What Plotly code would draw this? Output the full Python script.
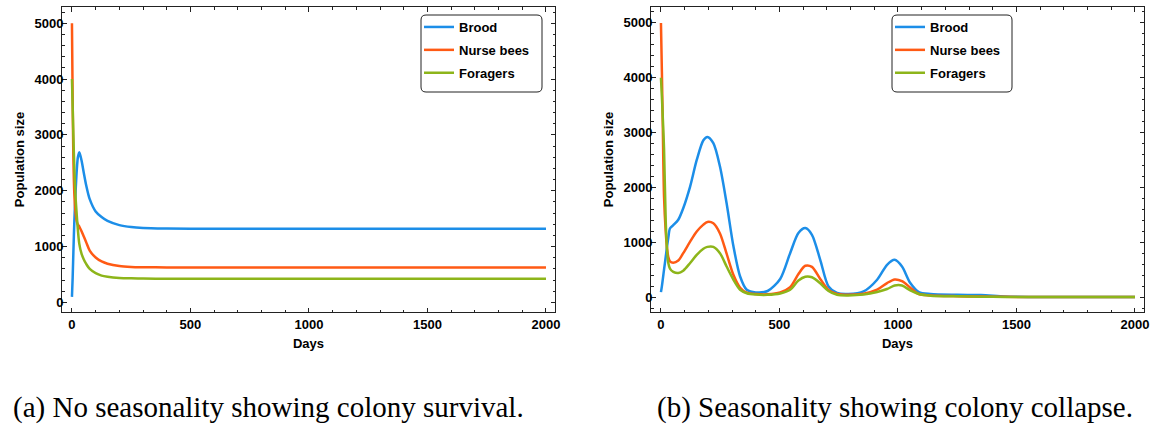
import plotly.graph_objects as go

# (a) no seasonality
t_a = [0, 3, 6, 10, 15, 20, 25, 31, 40, 50, 60, 75, 100, 125, 150, 200, 250, 300, 400, 500, 1000, 1500, 2000]
brood_a = [100, 450, 900, 1450, 1950, 2350, 2600, 2690, 2550, 2320, 2100, 1850, 1630, 1530, 1460, 1385, 1350, 1335, 1325, 1320, 1320, 1320, 1320]
nurse_a = [5000, 3600, 2600, 1950, 1620, 1460, 1395, 1360, 1280, 1180, 1080, 930, 805, 735, 695, 652, 636, 631, 628, 628, 628, 628, 628]
forager_a = [4000, 3500, 3000, 2400, 1900, 1580, 1300, 1050, 880, 770, 690, 600, 525, 482, 462, 440, 432, 428, 425, 425, 425, 425, 425]

# (b) seasonality
t_b = [0, 4, 8, 13, 20, 25, 31, 38, 52, 73, 94, 123, 151, 179, 196, 221, 249, 277, 306, 334, 362, 400, 450,
       503, 545, 580, 609, 637, 672, 707, 743, 790, 855, 912, 954, 986, 1017, 1052, 1088, 1137, 1250, 1350,
       1450, 1550, 2000]
brood_b = [90, 200, 330, 500, 730, 900, 1080, 1250, 1310, 1410, 1620, 2015, 2500, 2860, 2920, 2805, 2380, 1710,
           920, 375, 133, 84, 110, 330, 800, 1166, 1257, 1135, 679, 193, 73, 55, 102, 315, 588, 679, 557, 255,
           91, 55, 40, 35, 10, 2, 0]
nurse_b = [5000, 4100, 3050, 1830, 1200, 920, 730, 650, 625, 665, 800, 1010, 1195, 1320, 1370, 1345, 1160, 790,
           400, 170, 80, 55, 50, 84, 180, 420, 570, 550, 330, 130, 55, 40, 60, 133, 255, 320, 290, 170, 55, 30,
           15, 8, 3, 0, 0]
forager_b = [4000, 3650, 3250, 2700, 1400, 900, 620, 520, 460, 437, 480, 620, 770, 880, 915, 915, 800, 557, 315,
             133, 70, 45, 40, 65, 133, 300, 370, 360, 250, 110, 40, 30, 45, 91, 146, 210, 210, 120, 55, 25, 12,
             6, 2, 0, 0]

names = ["Brood", "Nurse bees", "Foragers"]
colors = ["#1C8EE8", "#FF5A14", "#8DB51A"]
captions = ["(a) No seasonality showing colony survival.", "(b) Seasonality showing colony collapse."]

W, H = 1151, 426
FONT = "Liberation Sans, Arial, sans-serif"

def px(x):
    return x / W

def py(y):
    return 1 - y / H

fig = go.Figure()
panels = [(t_a, [brood_a, nurse_a, forager_a]), (t_b, [brood_b, nurse_b, forager_b])]
for p, (t, series) in enumerate(panels):
    sfx = "" if p == 0 else "2"
    for k, ys in enumerate(series):
        fig.add_trace(go.Scatter(
            x=t, y=ys, mode="lines", name=names[k],
            line=dict(color=colors[k], width=2.5, shape="spline", smoothing=0.8),
            xaxis="x" + sfx, yaxis="y" + sfx,
            legend="legend" if p == 0 else "legend2",
            legendgroup=f"{p}{k}"))

# pixel geometry of the two frames
doms_x = [(62, 555), (651, 1144)]
top, bot = 7, 312
yranges = [[-170, 5290], [-273, 5290]]

def axis_common():
    return dict(showline=True, linecolor="#222", linewidth=1, mirror="ticks",
                ticks="inside", ticklen=4.5, tickcolor="#222", tickwidth=1,
                showgrid=False, zeroline=False, automargin=False,
                tickfont=dict(family=FONT, size=13, weight="bold", color="black"),
                title_font=dict(family=FONT, size=13, weight="bold", color="black"))

layout = dict(width=W, height=H, margin=dict(l=0, r=0, t=0, b=0),
              paper_bgcolor="white", plot_bgcolor="white", showlegend=True)
for p in range(2):
    sfx = "" if p == 0 else "2"
    xa = axis_common()
    xa.update(domain=[px(doms_x[p][0]), px(doms_x[p][1])], range=[-42, 2038],
              tick0=0, dtick=500, anchor="y" + sfx,
              minor=dict(dtick=100, ticks="inside", ticklen=2.5, tickcolor="#222"),
              title=dict(text="Days", standoff=8))
    ya = axis_common()
    ya.update(domain=[py(bot), py(top)], range=yranges[p],
              tick0=0, dtick=1000, anchor="x" + sfx, ticklabelstandoff=-5,
              minor=dict(dtick=200, ticks="inside", ticklen=2.5, tickcolor="#222"),
              title=dict(text="Population size", standoff=6))
    layout["xaxis" + sfx] = xa
    layout["yaxis" + sfx] = ya

legend_boxes = [(421, 542), (892, 1012)]
ly0, ly1 = 15, 92
shapes = []
for p, (bx0, bx1) in enumerate(legend_boxes):
    leg = dict(x=px(bx0 - 2), y=py(ly0 - 3), xanchor="left", yanchor="top",
               bgcolor="rgba(0,0,0,0)", borderwidth=0, tracegroupgap=3,
               font=dict(family=FONT, size=13, weight="bold", color="black"))
    layout["legend" if p == 0 else "legend2"] = leg
    r = 5
    x0, x1 = px(bx0), px(bx1)
    y0, y1 = py(ly1), py(ly0)
    rx, ry = r / W, r / H
    path = (f"M {x0+rx},{y1} L {x1-rx},{y1} Q {x1},{y1} {x1},{y1-ry} "
            f"L {x1},{y0+ry} Q {x1},{y0} {x1-rx},{y0} L {x0+rx},{y0} "
            f"Q {x0},{y0} {x0},{y0+ry} L {x0},{y1-ry} Q {x0},{y1} {x0+rx},{y1} Z")
    shapes.append(dict(type="path", path=path, xref="paper", yref="paper",
                       line=dict(color="#222", width=1), fillcolor="white", layer="above"))
layout["shapes"] = shapes

cap_x = [268.5, 895]
layout["annotations"] = [
    dict(text=captions[i], x=px(cap_x[i]), y=0, xref="paper", yref="paper",
         xanchor="center", yanchor="bottom", showarrow=False,
         font=dict(family="Liberation Serif, Times New Roman, serif", size=29, color="black"))
    for i in range(2)]

fig.update_layout(**layout)
# drop the page's default body margin so the figure fills the window exactly
fig.write_html("out.html", config={"displayModeBar": False},
               post_script="document.body.style.margin='0';document.body.style.overflow='hidden';")
